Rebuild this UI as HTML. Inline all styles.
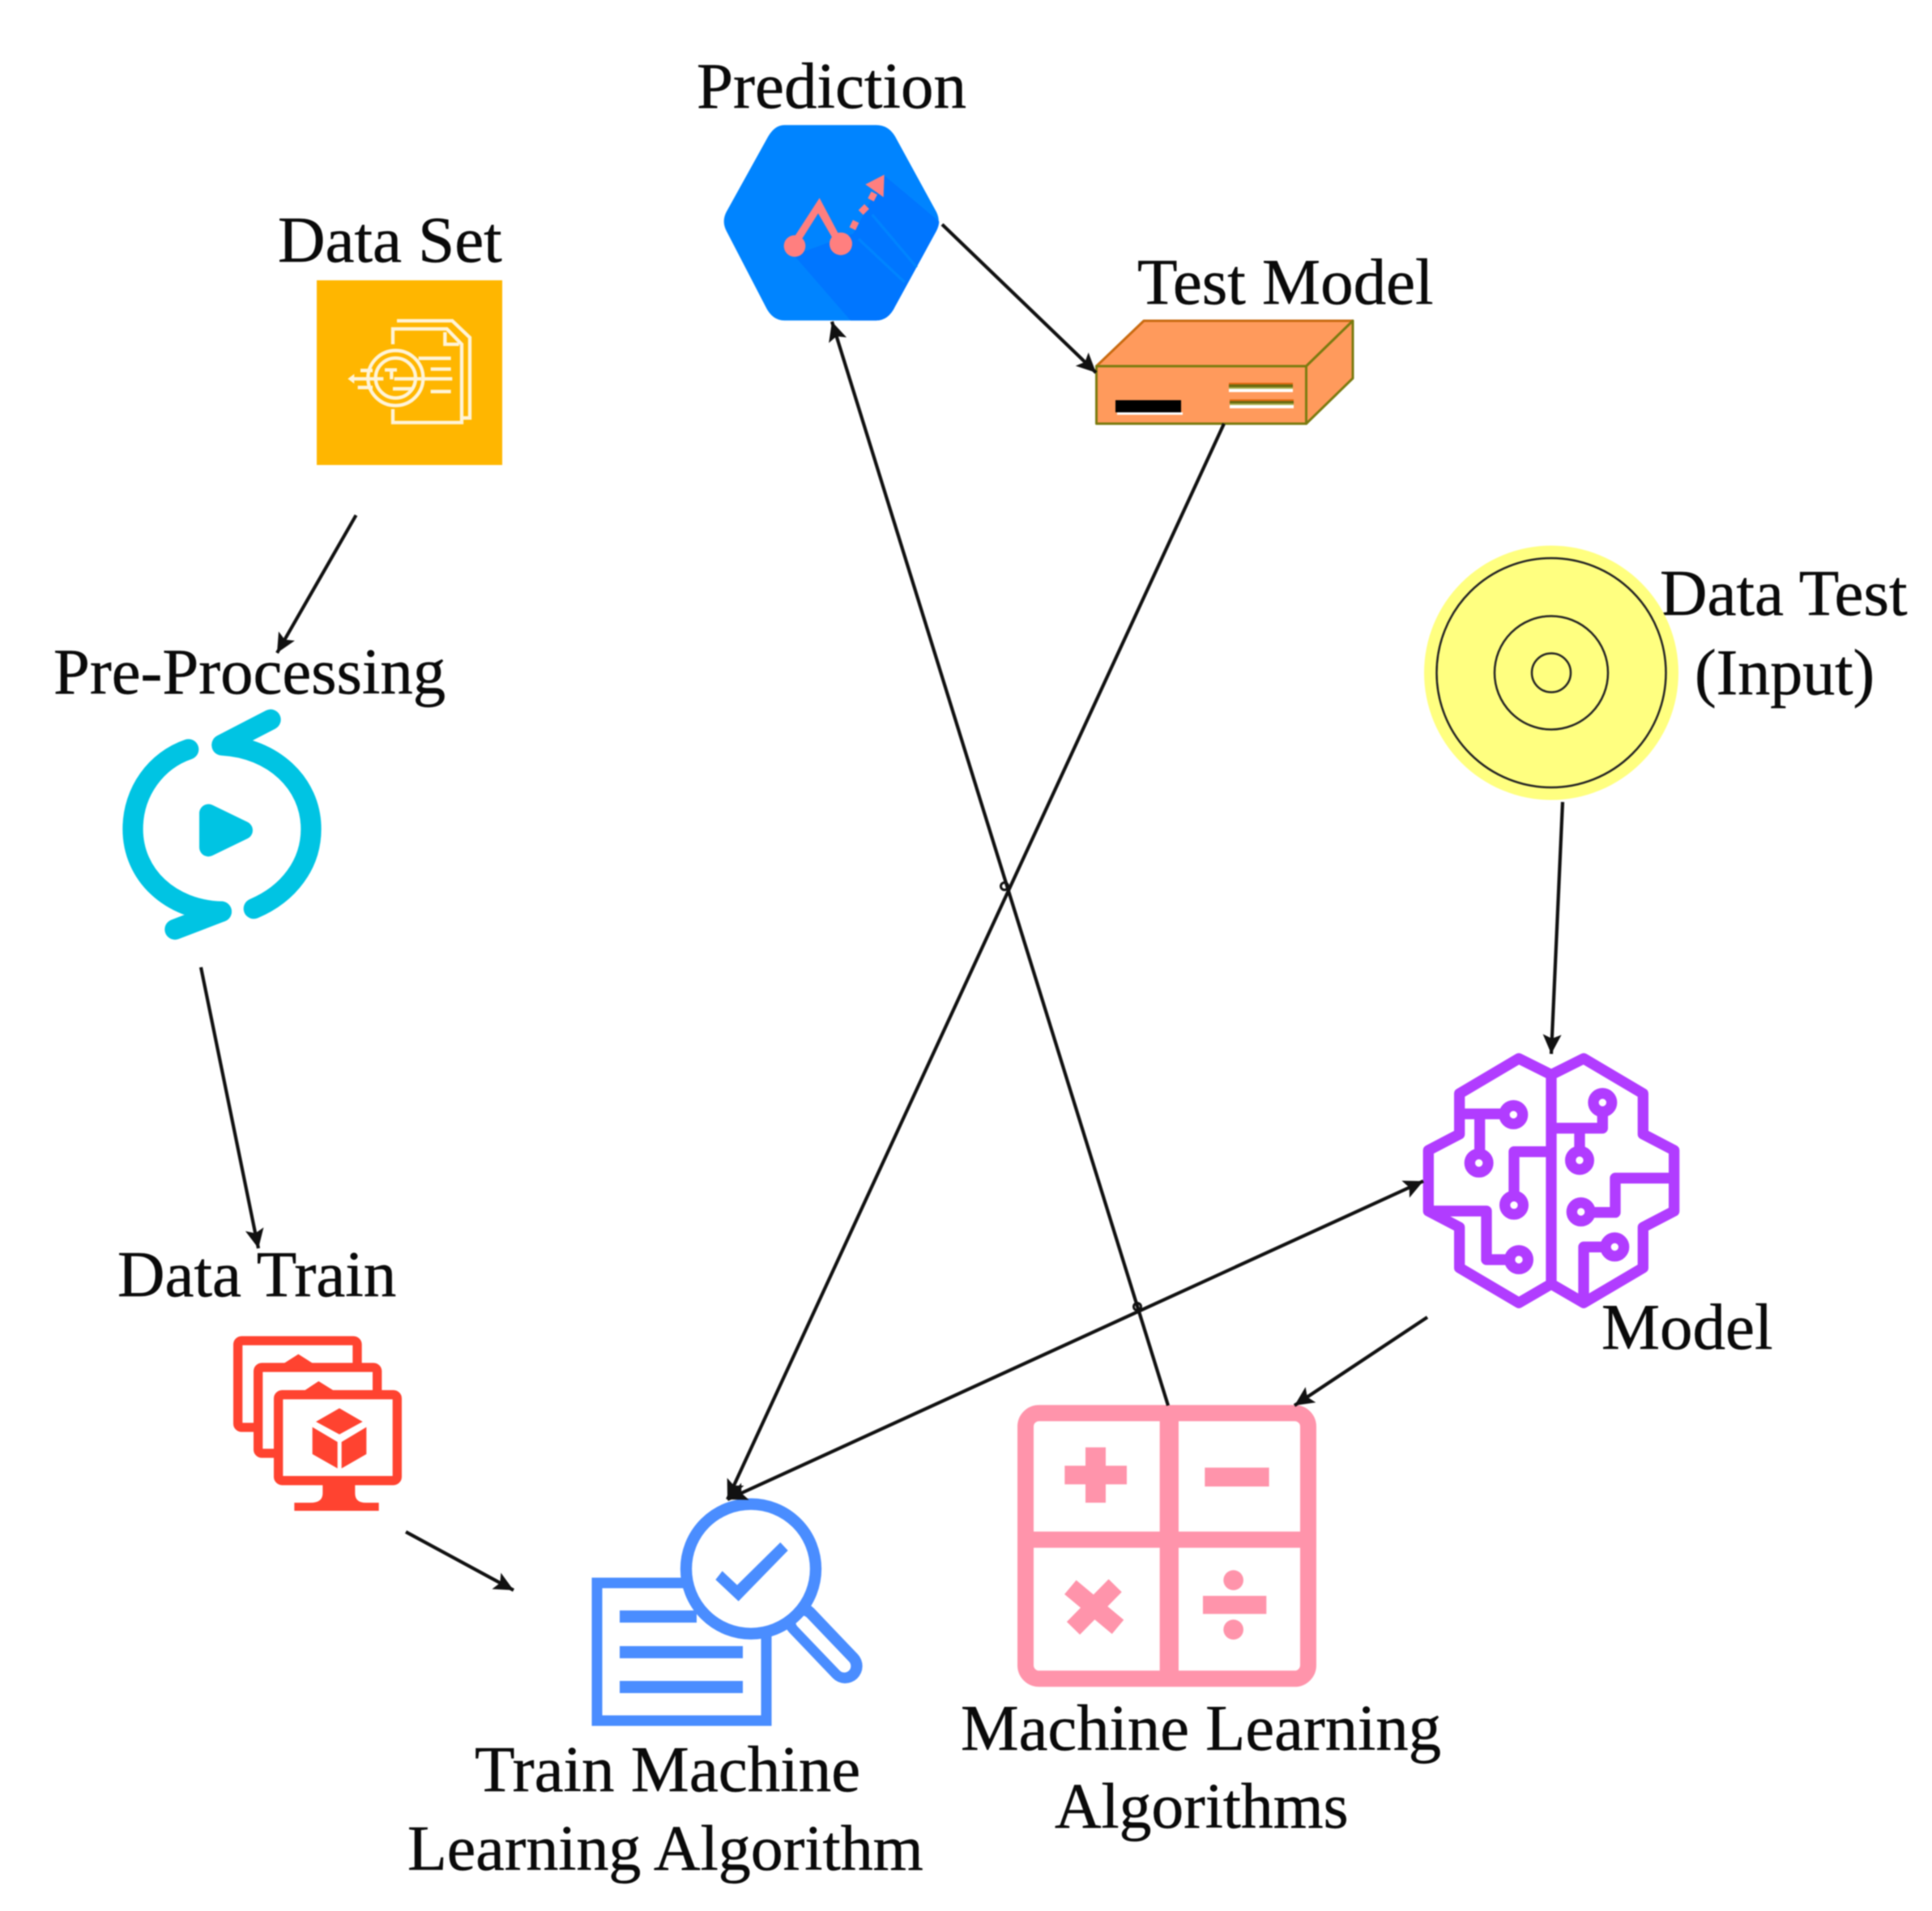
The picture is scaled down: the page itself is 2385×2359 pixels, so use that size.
<!DOCTYPE html>
<html><head><meta charset="utf-8"><style>
html,body{margin:0;padding:0;background:#fff}
svg{display:block;filter:blur(.7px)}
text{font-family:"Liberation Serif",serif;font-size:81px;fill:#0a0a0a;stroke:#0a0a0a;stroke-width:.5px}
</style></head><body>
<svg width="2385" height="2359" viewBox="0 0 2385 2359" xmlns="http://www.w3.org/2000/svg">
<defs>
<marker id="a" markerUnits="userSpaceOnUse" markerWidth="30" markerHeight="30" refX="25" refY="15" orient="auto-start-reverse"><path d="M25,15 L1,3.5 L6,15 L1,26.5Z" fill="#111"/></marker>
</defs>
<rect width="2385" height="2359" fill="#fff"/>

<text x="860" y="133">Prediction</text>
<text x="1404" y="375">Test Model</text>
<text x="343" y="323">Data Set</text>
<text x="66" y="856" style="font-size:80.7px">Pre-Processing</text>
<text x="2049" y="759">Data Test</text>
<text x="2092" y="857" style="font-size:80px">(Input)</text>
<text x="145" y="1600">Data Train</text>
<text x="1977" y="1665">Model</text>
<text x="1186" y="2160" style="font-size:80.6px">Machine Learning</text>
<text x="1302" y="2256" style="font-size:79.6px">Algorithms</text>
<text x="586" y="2211">Train Machine</text>
<text x="503" y="2308" style="font-size:79.9px">Learning Algorithm</text>

<!-- Data Set -->
<rect x="391" y="346" width="229" height="228" fill="#FFB600"/>
<g transform="translate(340,240) scale(.3333)" fill="none" stroke="#FFF4D8" stroke-width="13">
<path d="M450,468H655L720,530V828H695"/>
<path d="M435,555V498H635L690,555V845H435V795"/>
<path d="M628,510V555H680"/>
<circle cx="445" cy="680" r="102"/><circle cx="445" cy="680" r="74"/>
<path d="M530,607H650M575,647H650M545,683H655M575,730H650M315,652H360M285,683H400M305,715H360M405,650H450M430,650V685M435,720H505M440,683H540"/>
<path d="M268,683L292,665V701Z" fill="#FFF4D8" stroke="none"/>
</g>

<!-- Prediction hexagon -->
<g transform="translate(880,145) scale(.3333)">
<path d="M265,28H605Q650,28 675,70L828,350Q845,385 828,420L675,700Q650,752 605,752H265Q220,752 195,700L50,420Q32,385 50,350L205,70Q230,28 265,28Z" fill="#0084FF"/>
<path d="M635,215L520,430L300,510L510,752H605Q650,752 675,700L828,420Q838,400 838,385Z" fill="#0076FF"/>
<path d="M540,450L710,610M590,360L755,555" stroke="#0084FF" stroke-width="10" fill="none"/>
<g fill="#FF7F7F">
<circle cx="303" cy="476" r="40"/><circle cx="474" cy="468" r="42"/>
<path d="M395,298L470,440L445,450L390,355L330,450L300,445Z"/>
<path d="M517,412L530,385M548,352L570,330M585,305L598,280" stroke="#FF7F7F" stroke-width="25" fill="none"/>
<path d="M635,212L632,295L565,248Z"/>
</g>
</g>

<!-- Test Model -->
<g stroke="#7B7B10" stroke-width="3" fill="#FF9A5C" stroke-linejoin="round">
<path d="M1353.500,452L1412,396H1670L1612.500,452Z" stroke="#C96A10"/>
<path d="M1612.500,452L1670,396V467L1612.500,523Z"/>
<rect x="1353.500" y="452" width="259" height="71"/>
</g>
<rect x="1377" y="494" width="81" height="15" fill="#000"/>
<rect x="1379" y="509" width="81" height="3" fill="#fff"/>
<rect x="1517" y="472.500" width="79" height="2" fill="#E06A10"/><rect x="1517" y="474.500" width="79" height="3.500" fill="#6A6A10"/><rect x="1517" y="478" width="79" height="2" fill="#A8B050"/><rect x="1517" y="480" width="79" height="4" fill="#fff"/>
<rect x="1518" y="493" width="79" height="2" fill="#E06A10"/><rect x="1518" y="495" width="79" height="3" fill="#6A6A10"/><rect x="1518" y="498" width="79" height="2" fill="#A8B050"/><rect x="1518" y="500" width="79" height="4" fill="#fff"/>

<!-- Data test disk -->
<circle cx="1915" cy="830.500" r="157" fill="#FFFF80"/>
<g fill="none" stroke="#222" stroke-width="2.500">
<circle cx="1915" cy="830.500" r="141.500"/><circle cx="1915" cy="830.500" r="70"/><circle cx="1915" cy="830.500" r="24"/>
</g>

<!-- Pre-processing -->
<g transform="translate(130,860) scale(.3333)" fill="none" stroke="#00C4E3" stroke-width="76" stroke-linecap="round" stroke-linejoin="round">
<path d="M432,180C620,190 762,320 762,490C762,620 680,730 550,785"/>
<path d="M432,178L612,85"/>
<path d="M308,195C190,235 102,350 102,490C102,660 240,790 430,796"/>
<path d="M430,796L258,862"/>
<path d="M382,432L512,495L382,558Z" fill="#00C4E3" stroke-width="68"/>
</g>

<!-- Data Train -->
<g transform="translate(275,1640) scale(.3333)">
<g fill="#fff" stroke="#FF4330" stroke-width="34" stroke-linejoin="round">
<rect x="56" y="45" width="442" height="321" rx="14"/>
<rect x="131" y="144" width="441" height="318" rx="14"/>
<rect x="206" y="245" width="440" height="318" rx="14"/>
</g>
<path d="M228,128L280,95L332,128ZM305,228L355,195L408,228Z" fill="#FF4330"/>
<path d="M370,575H490V610Q490,645 530,645H578V675H265V645H325Q370,645 370,610Z" fill="#FF4330"/>
<path d="M432,295L518,345L432,392L345,345ZM332,365L425,420V518L332,465ZM532,365L440,420V518L532,465Z" fill="#FF4330"/>
</g>

<!-- Train ML -->
<g fill="none" stroke="#4A8DFF">
<path d="M860,1954H737V2124H946V2010" stroke-width="13"/>
<path d="M765,1995.500H860M765,2039.500H917M765,2082.500H917" stroke-width="15"/>
</g>
<g transform="translate(830,1840) scale(.3333)">
<path d="M478,480L640,650" stroke="#4A8DFF" stroke-width="128" stroke-linecap="round" fill="none"/>
<path d="M481,487L637,650" stroke="#fff" stroke-width="48" stroke-linecap="round" fill="none"/>
<circle cx="291" cy="290" r="240" fill="#fff" stroke="#4A8DFF" stroke-width="43"/>
<path d="M160,330L185,298L240,350L400,192L428,222L245,410Z" fill="#4A8DFF"/>
</g>

<!-- ML algorithms -->
<g transform="translate(1230,1700) scale(.3333)">
<g fill="none" stroke="#FF94AB" stroke-width="60">
<rect x="108" y="133" width="1047" height="984" rx="50"/>
<path d="M108,602H1185" />
<path d="M640,133V1117" stroke-width="70"/>
<path d="M274,778L450,925M440,772L285,930" stroke-width="68"/>
</g>
<g fill="#FF94AB">
<rect x="253" y="328" width="230" height="69"/><rect x="330" y="260" width="75" height="205"/>
<rect x="772" y="335" width="238" height="70"/>
<rect x="765" y="810" width="235" height="67"/>
<circle cx="878" cy="752" r="37"/><circle cx="878" cy="935" r="37"/>
</g>
</g>

<!-- Model brain -->
<g transform="translate(1720,1270) scale(.3333)" fill="none" stroke="#B13CFF" stroke-width="40" stroke-linejoin="round">
<path d="M585,170L465,110L245,240V390L130,450V675L245,735V885L465,1015L585,945L705,1015L925,885V735L1040,675V450L925,390V240L705,110L585,170V945"/>
<path d="M245,315H400M320,315V460M585,455H447V610M130,675H345V855H420"/>
<path d="M775,320V368H585M690,368V450M1040,553H822V680H740M775,808H705V1000"/>
<circle cx="445" cy="318" r="34"/><circle cx="317" cy="497" r="34"/><circle cx="447" cy="653" r="34"/><circle cx="465" cy="855" r="34"/>
<circle cx="775" cy="273" r="34"/><circle cx="690" cy="487" r="34"/><circle cx="695" cy="678" r="34"/><circle cx="820" cy="808" r="34"/>
</g>

<!-- Connectors -->
<g fill="none" stroke="#111" stroke-width="4.200">
<line x1="439.500" y1="636" x2="342" y2="806" marker-end="url(#a)"/>
<line x1="248" y1="1194" x2="319" y2="1541" marker-end="url(#a)"/>
<line x1="501" y1="1891" x2="634" y2="1963" marker-end="url(#a)"/>
<line x1="1757" y1="1458" x2="898" y2="1851" marker-start="url(#a)" marker-end="url(#a)"/>
<line x1="1511" y1="523" x2="898" y2="1851" marker-end="url(#a)"/>
<line x1="1442" y1="1735" x2="1027" y2="397" marker-end="url(#a)"/>
<line x1="1163" y1="277" x2="1353" y2="460" marker-end="url(#a)"/>
<line x1="1929" y1="990" x2="1915" y2="1301" marker-end="url(#a)"/>
<line x1="1762" y1="1626" x2="1598" y2="1735" marker-end="url(#a)"/>
<circle cx="1240" cy="1094" r="4.500" stroke-width="3"/>
<circle cx="1404" cy="1613" r="4.500" stroke-width="3"/>
</g>
</svg>
</body></html>
